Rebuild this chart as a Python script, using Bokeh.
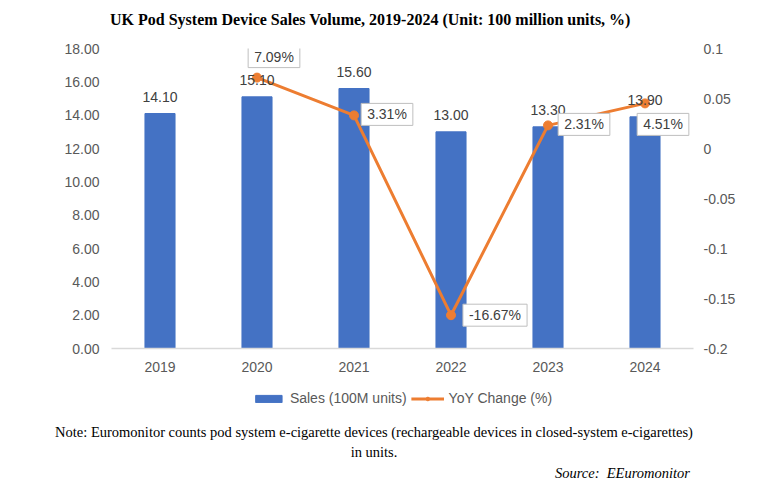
from bokeh.plotting import figure
from bokeh.layouts import column
from bokeh.models import (Range1d, LinearAxis, FixedTicker, ColumnDataSource, LabelSet,
                          Label, Legend, LegendItem, FactorRange, Div)
from bokeh.embed import file_html
from bokeh.resources import INLINE
from bokeh.core.properties import value

# ---------------- data ----------------
years = ["2019", "2020", "2021", "2022", "2023", "2024"]
sales = [14.10, 15.10, 15.60, 13.00, 13.30, 13.90]
yoy_years = ["2020", "2021", "2022", "2023", "2024"]
yoy = [0.0709, 0.0331, -0.1667, 0.0231, 0.0451]
left_ticks = [0, 2, 4, 6, 8, 10, 12, 14, 16, 18]
left_tick_labels = ["0.00", "2.00", "4.00", "6.00", "8.00", "10.00", "12.00", "14.00", "16.00", "18.00"]
right_ticks = [-0.2, -0.15, -0.1, -0.05, 0, 0.05, 0.1]
right_tick_labels = ["-0.2", "-0.15", "-0.1", "-0.05", "0", "0.05", "0.1"]
series_names = ["Sales (100M units)", "YoY Change (%)"]
title_text = "UK Pod System Device Sales Volume, 2019-2024 (Unit: 100 million units, %)"
note_lines = ["Note: Euromonitor counts pod system e-cigarette devices (rechargeable devices in closed-system e-cigarettes)",
              "in units."]
source_text = "Source:  EEuromonitor"

# ---------------- layout / style ----------------
yoy_label_offsets = [(17, 21), (33, 1), (44, 0), (36, 1), (18, -21)]
BAR = "#4472C4"
LINE = "#ED7D31"
SANS = "Liberation Sans"
SERIF = "Liberation Serif"
FS = "14px"
W, H0, H1, H2, H3 = 762, 30, 353, 30, 75

# ---------------- header (title) ----------------
header = Div(width=W, height=H0, margin=(0, 0, 0, 0), text=(
    f'<div style="position:relative;width:{W}px;height:{H0}px;">'
    f'<div style="position:absolute;left:110px;top:10px;font-family:\'{SERIF}\';font-weight:bold;'
    f'font-size:16px;line-height:20px;color:black;white-space:nowrap;">{title_text}</div>'
    f'</div>'))

# ---------------- main chart ----------------
p = figure(width=W, height=H1, x_range=FactorRange(*years), y_range=Range1d(0, 18),
           output_backend="svg", toolbar_location=None, title_location=None,
           min_border_left=111, min_border_right=69, min_border_top=18, min_border_bottom=35)
p.outline_line_color = None
p.xgrid.grid_line_color = None
p.ygrid.grid_line_color = None
p.background_fill_color = "white"
p.extra_y_ranges = {"yoy": Range1d(-0.2, 0.1)}

# x axis
xa = p.xaxis[0]
xa.axis_line_color = "#D9D9D9"
xa.axis_line_width = 1.5
xa.major_tick_line_color = None
xa.minor_tick_line_color = None
xa.major_tick_out = 0
xa.major_label_standoff = 13
xa.major_label_text_font = SANS
xa.major_label_text_font_size = FS
xa.major_label_text_color = "#595959"

# left axis
ya = p.yaxis[0]
ya.ticker = FixedTicker(ticks=left_ticks)
ya.major_label_overrides = dict(zip(left_ticks, left_tick_labels))
ya.axis_line_color = None
ya.major_tick_line_color = None
ya.minor_tick_line_color = None
ya.major_label_standoff = 6
ya.major_label_text_font = SANS
ya.major_label_text_font_size = FS
ya.major_label_text_color = "#595959"

# right axis
ra = LinearAxis(y_range_name="yoy", ticker=FixedTicker(ticks=right_ticks),
                major_label_overrides=dict(zip(right_ticks, right_tick_labels)))
ra.axis_line_color = None
ra.major_tick_line_color = None
ra.minor_tick_line_color = None
ra.major_label_standoff = 4
ra.major_label_text_font = SANS
ra.major_label_text_font_size = FS
ra.major_label_text_color = "#595959"
p.add_layout(ra, "right")

# bars
bar_src = ColumnDataSource(dict(year=years, sales=sales, label=[f"{v:.2f}" for v in sales]))
p.vbar(x="year", top="sales", width=0.31, source=bar_src, fill_color=BAR, line_color=BAR)
p.add_layout(LabelSet(x="year", y="sales", text="label", source=bar_src, text_align="center",
                      text_baseline="middle", y_offset=17, text_font=value(SANS),
                      text_font_size=value(FS), text_color="#404040"))

# line
line_src = ColumnDataSource(dict(year=yoy_years, yoy=yoy))
p.line(x="year", y="yoy", source=line_src, y_range_name="yoy", line_color=LINE, line_width=3)
p.scatter(x="year", y="yoy", source=line_src, y_range_name="yoy", size=9,
          fill_color=LINE, line_color=LINE)

for yr, v, (dx, dy) in zip(yoy_years, yoy, yoy_label_offsets):
    # categorical scale: factor i sits at synthetic coordinate i + 0.5
    xpos = years.index(yr) + 0.5
    p.add_layout(Label(x=xpos, y=v, y_range_name="yoy", x_offset=dx, y_offset=dy,
                       text=f"{v*100:.2f}%", text_align="center", text_baseline="middle",
                       text_font=SANS, text_font_size=FS, text_color="#404040",
                       background_fill_color="white", border_line_color="#BFBFBF",
                       border_line_width=1, padding=dict(left=6, right=6, top=3, bottom=3)))

# ---------------- legend strip ----------------
# same series drawn into a strip whose y-range lies far above the data, so only the legend shows
p2 = figure(width=W, height=H2, x_range=p.x_range, y_range=Range1d(1000, 1001),
            output_backend="svg", toolbar_location=None, x_axis_location=None,
            y_axis_location=None, title_location=None, min_border=0)
p2.outline_line_color = None
p2.xgrid.grid_line_color = None
p2.ygrid.grid_line_color = None
g_bar = p2.vbar(x="year", top="sales", width=0.31, source=bar_src, fill_color=BAR, line_color=BAR)
g_line = p2.line(x="year", y="yoy", source=line_src, line_color=LINE, line_width=3)
g_pts = p2.scatter(x="year", y="yoy", source=line_src, size=9, fill_color=LINE, line_color=LINE)

legend = Legend(items=[LegendItem(label=series_names[0], renderers=[g_bar]),
                       LegendItem(label=series_names[1], renderers=[g_line, g_pts])],
                orientation="horizontal", location="top_center", border_line_color=None,
                background_fill_alpha=0, glyph_width=33, glyph_height=9, label_standoff=5,
                spacing=4, padding=0, margin=7, label_text_font=SANS,
                label_text_font_size=FS, label_text_color="#595959")
p2.add_layout(legend)

# ---------------- footer text (note and source) ----------------
note_html = "<br>".join(note_lines)
footer = Div(width=W, height=H3, margin=(0, 0, 0, 0), text=(
    f'<div style="position:relative;width:{W}px;height:{H3}px;">'
    f'<div style="position:absolute;left:0;top:10px;width:748px;text-align:center;'
    f'font-family:\'{SERIF}\';font-size:14.5px;line-height:19.5px;color:black;">{note_html}</div>'
    f'<div style="position:absolute;right:72px;top:51px;font-family:\'{SERIF}\';'
    f'font-style:italic;font-size:14.5px;line-height:18px;color:black;white-space:pre;">{source_text}</div>'
    f'</div>'))

layout = column(header, p, p2, footer, spacing=0)
open("out.html", "w").write(file_html(layout, INLINE))
